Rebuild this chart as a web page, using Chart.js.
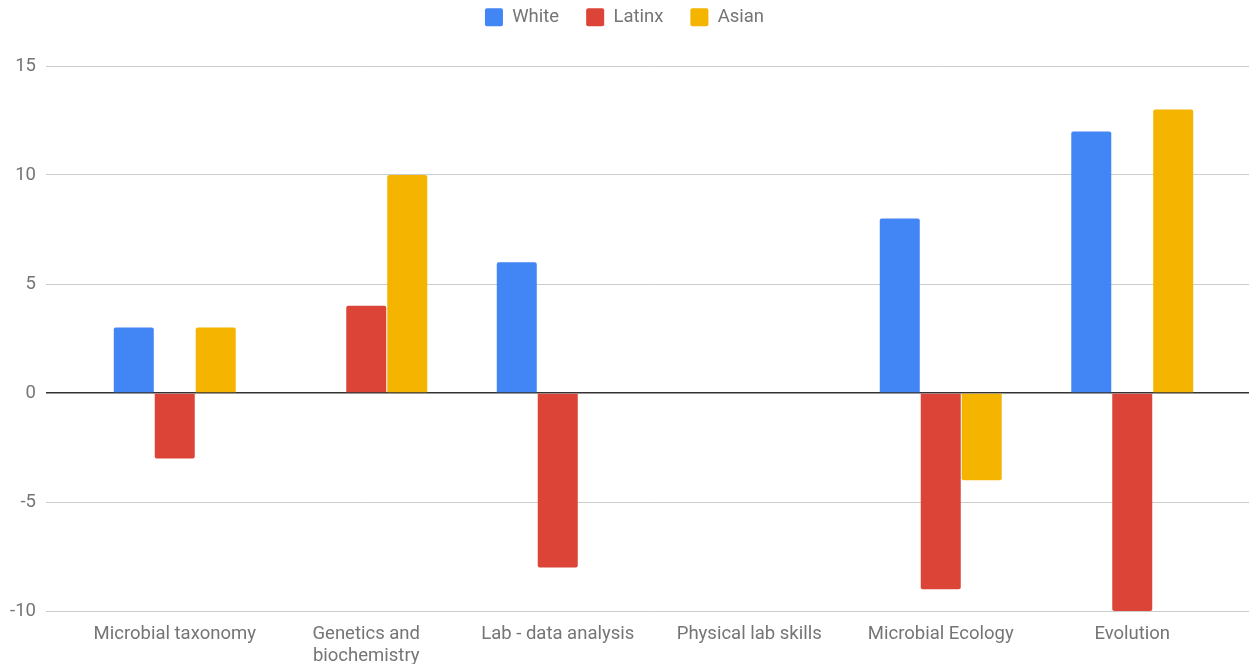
<!DOCTYPE html>
<html>
<head>
<meta charset="utf-8">
<script src="https://cdn.jsdelivr.net/npm/chart.js@4/dist/chart.umd.min.js"></script>
<style>
  html, body { margin: 0; padding: 0; background: #fff; }
  #wrap { width: 1249px; height: 664px; position: relative; }
</style>
</head>
<body>
<div id="wrap"><canvas id="c"></canvas></div>
<script>
// Topics on the category axis
const categories = [
  'Microbial taxonomy',
  ['Genetics and', 'biochemistry'],
  'Lab - data analysis',
  'Physical lab skills',
  'Microbial Ecology',
  'Evolution'
];

// Change per group
const whiteValues  = [3, 0, 6, 0, 8, 12];
const latinxValues = [-3, 4, -8, 0, -9, -10];
const asianValues  = [3, 10, 0, 0, -4, 13];

const seriesNames = ['White', 'Latinx', 'Asian'];
const seriesColors = ['#4285F4', '#DB4437', '#F4B400'];

// Value axis ticks
const yTicks = [-10, -5, 0, 5, 10, 15];

const gridColor = (ctx) => (ctx.tick && ctx.tick.value === 0) ? '#333333' : '#cccccc';
const gridWidth = (ctx) => (ctx.tick && ctx.tick.value === 0) ? 1.5 : 1;

Chart.defaults.font.family = 'Roboto, "Noto Sans", sans-serif';
Chart.defaults.color = '#757575';

// Reserve room above the plot for the legend row
const legendSpace = {
  id: 'legendSpace',
  beforeInit(chart) {
    const fit = chart.legend.fit;
    chart.legend.fit = function () {
      fit.call(this);
      this.height = 85;
    };
  }
};

new Chart(document.getElementById('c'), {
  type: 'bar',
  data: {
    labels: categories,
    datasets: [whiteValues, latinxValues, asianValues].map((vals, i) => ({
      label: seriesNames[i],
      data: vals,
      backgroundColor: seriesColors[i],
      borderRadius: 2,
      borderSkipped: 'start',
      categoryPercentage: 0.642,
      barPercentage: 0.976
    }))
  },
  options: {
    responsive: true,
    maintainAspectRatio: false,
    animation: false,
    layout: { padding: { top: -19, left: 0, right: 0, bottom: 0 } },
    plugins: {
      legend: {
        position: 'top',
        align: 'center',
        labels: {
          boxWidth: 18,
          boxHeight: 18,
          padding: 27,
          useBorderRadius: true,
          borderRadius: 2,
          color: '#757575',
          font: { size: 18.5 }
        }
      },
      tooltip: { enabled: false }
    },
    scales: {
      x: {
        grid: { display: false, drawTicks: false },
        border: { display: false },
        ticks: {
          autoSkip: false,
          maxRotation: 0,
          padding: 12,
          color: '#757575',
          font: { size: 18.5, lineHeight: 1.2 }
        },
        afterFit(scale) { scale.height = 53; }
      },
      y: {
        position: 'left',
        min: -10,
        max: 15,
        afterBuildTicks(scale) { scale.ticks = yTicks.map(v => ({ value: v })); },
        grid: { color: gridColor, lineWidth: gridWidth, tickLength: 33 },
        border: { display: false },
        ticks: { padding: 10, color: '#757575', font: { size: 18.5 } },
        afterFit(scale) { scale.width = 79; }
      },
      yRight: {
        position: 'right',
        min: -10,
        max: 15,
        afterBuildTicks(scale) { scale.ticks = yTicks.map(v => ({ value: v })); },
        grid: { color: gridColor, lineWidth: gridWidth, tickLength: 21, drawOnChartArea: false },
        border: { display: false },
        ticks: { display: false },
        afterFit(scale) { scale.width = 21; }
      }
    }
  },
  plugins: [legendSpace]
});
</script>
</body>
</html>
